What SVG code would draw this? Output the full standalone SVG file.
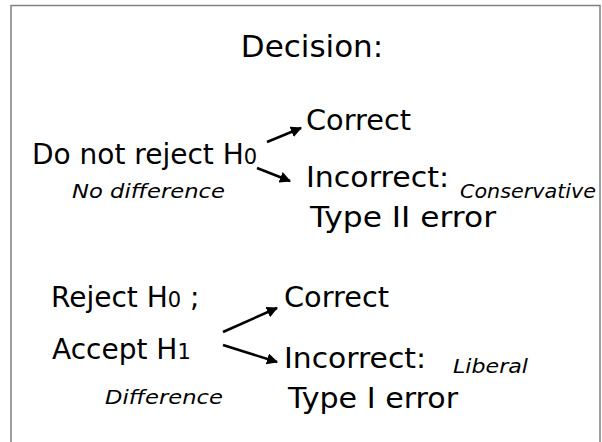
<svg xmlns="http://www.w3.org/2000/svg" width="602" height="442" viewBox="0 0 602 442">
<style>
text{font-family:"DejaVu Sans","Liberation Sans",sans-serif;fill:#000}
.m{font-size:28px}
.t{font-size:31px}
.i{font-size:19px;font-style:italic}
.s{font-size:21px}
.c{stroke:#000;stroke-width:2.5;fill:none;marker-end:url(#ah)}
</style>
<defs>
<marker id="ah" viewBox="0 0 10 10" refX="9" refY="5" markerWidth="4.5" markerHeight="4.5" orient="auto" markerUnits="strokeWidth">
<path d="M0,0 L10,5 L0,10 z" fill="#000"/>
</marker>
</defs>
<rect x="11" y="5.5" width="589" height="445" fill="#fff" stroke="#808080" stroke-width="1.5"/>
<g id="title"><text class="t" x="312" y="57" text-anchor="middle">Decision:</text></g>
<g id="notreject">
<text class="m" x="32" y="164">Do not reject H<tspan class="s">0</tspan></text>
<text class="i" x="72" y="198" textLength="153" lengthAdjust="spacingAndGlyphs">No difference</text>
</g>
<g id="correct1"><text class="m" x="306" y="130" textLength="105" lengthAdjust="spacingAndGlyphs">Correct</text></g>
<g id="incorrect2">
<text class="m" x="306" y="187" textLength="143" lengthAdjust="spacingAndGlyphs">Incorrect:</text>
<text class="i" x="460" y="198" textLength="136" lengthAdjust="spacingAndGlyphs">Conservative</text>
<text class="m" x="310" y="227" textLength="186" lengthAdjust="spacingAndGlyphs">Type II error</text>
</g>
<g id="reject">
<text class="m" x="51" y="307">Reject H<tspan class="s">0</tspan> ;</text>
<text class="m" x="52" y="359">Accept H<tspan class="s">1</tspan></text>
<text class="i" x="105" y="404" textLength="118" lengthAdjust="spacingAndGlyphs">Difference</text>
</g>
<g id="correct3"><text class="m" x="284" y="307" textLength="105" lengthAdjust="spacingAndGlyphs">Correct</text></g>
<g id="incorrect4">
<text class="m" x="284" y="368" textLength="142" lengthAdjust="spacingAndGlyphs">Incorrect:</text>
<text class="i" x="453" y="373" textLength="75" lengthAdjust="spacingAndGlyphs">Liberal</text>
<text class="m" x="288" y="408" textLength="170" lengthAdjust="spacingAndGlyphs">Type I error</text>
</g>
<g id="connectors">
<line class="c" x1="267" y1="142" x2="301" y2="128"/>
<line class="c" x1="257" y1="168" x2="290" y2="181"/>
<line class="c" x1="223" y1="332" x2="277" y2="308"/>
<line class="c" x1="223" y1="345" x2="277" y2="362"/>
</g>
</svg>
